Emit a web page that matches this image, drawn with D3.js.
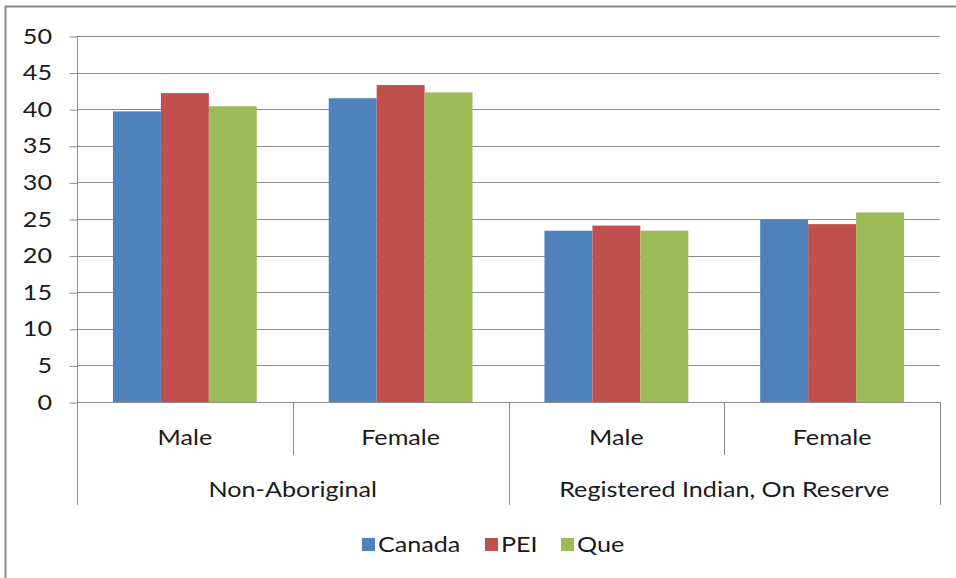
<!DOCTYPE html>
<html>
<head>
<meta charset="utf-8">
<script src="https://cdn.jsdelivr.net/npm/d3@7"></script>
<style>
  html, body { margin: 0; padding: 0; background: #fff; }
  svg { display: block; }
  text { font-family: Lato, "Open Sans", sans-serif; fill: #1a1a1a; }
</style>
</head>
<body>
<svg id="chart" width="956" height="578"></svg>
<script>
// Groups along the x axis (outer) and sex (inner)
const groups = ["Non-Aboriginal", "Registered Indian, On Reserve"];
const sexes = ["Male", "Female"];
const series = ["Canada", "PEI", "Que"];
const colors = ["#4F81BD", "#C0504D", "#9BBB59"];
const yTicks = [0, 5, 10, 15, 20, 25, 30, 35, 40, 45, 50];

// Values per series, in order: Non-Ab Male, Non-Ab Female, Reg Male, Reg Female
const canada = [39.7, 41.5, 23.4, 24.9];
const pei    = [42.2, 43.3, 24.1, 24.3];
const que    = [40.4, 42.3, 23.4, 25.9];
const values = [canada, pei, que];

const svg = d3.select("#chart");
const W = 956, H = 578;
const m = { left: 77, right: 940, top: 36, bottom: 402 };
const FS = 21.5, SX = 1.17;

// categories = group x sex
const cats = [];
groups.forEach(g => sexes.forEach(s => cats.push(g + "|" + s)));

const x = d3.scaleBand().domain(cats).range([m.left, m.right]).paddingInner(0).paddingOuter(0);
const xi = d3.scaleBand().domain(series).range([0, x.bandwidth()]).paddingOuter(0.75).paddingInner(0);
const y = d3.scaleLinear().domain([0, 50]).range([m.bottom, m.top]);

function label(sel, tx, ty, str, anchor) {
  return sel.append("g").attr("transform", `translate(${tx},${ty}) scale(${SX},1)`)
    .append("text").attr("text-anchor", anchor || "middle")
    .style("font-size", FS + "px").text(str);
}

// outer frame
svg.append("path")
  .attr("d", `M5.5,${H} V6.5 H${W + 5}`)
  .attr("fill", "none").attr("stroke", "#878787").attr("stroke-width", 2);

// gridlines
svg.append("g").selectAll("line").data(yTicks.filter(d => d > 0)).join("line")
  .attr("x1", m.left).attr("x2", m.right)
  .attr("y1", d => Math.round(y(d)) + 0.5).attr("y2", d => Math.round(y(d)) + 0.5)
  .attr("stroke", "#8c8c8c").attr("stroke-width", 1);

// bars
const bars = svg.append("g");
series.forEach((s, si) => {
  bars.selectAll("rect.s" + si).data(values[si]).join("rect")
    .attr("class", "s" + si)
    .attr("x", (d, i) => x(cats[i]) + xi(s))
    .attr("width", xi.bandwidth())
    .attr("y", d => y(d))
    .attr("height", d => y(0) - y(d))
    .attr("fill", colors[si]);
});

// y axis
const yAxis = d3.axisLeft(y).tickValues(yTicks).tickSize(8).tickPadding(0).tickFormat(d3.format("d"));
const ya = svg.append("g").attr("transform", `translate(${m.left + 0.5},0.5)`).call(yAxis);
ya.select(".domain").attr("stroke", "#8c8c8c").attr("d", `M0,${m.top} V${m.bottom}`);
ya.selectAll(".tick line").attr("stroke", "#8c8c8c");
ya.selectAll(".tick text").remove();
yTicks.forEach(t => label(svg, 52, y(t) + 7.5, String(t), "end"));

// x axis baseline
svg.append("line").attr("x1", m.left).attr("x2", m.right)
  .attr("y1", m.bottom + 0.5).attr("y2", m.bottom + 0.5)
  .attr("stroke", "#8c8c8c");

// category separators
const xb = svg.append("g");
const innerBottom = 455, outerBottom = 505;
cats.forEach((c, i) => {
  const xl = Math.round(x(c)) + 0.5;
  const isOuter = i % sexes.length === 0;
  xb.append("line").attr("x1", xl).attr("x2", xl).attr("y1", m.bottom)
    .attr("y2", isOuter ? outerBottom : innerBottom).attr("stroke", "#8c8c8c");
  label(svg, x(c) + x.bandwidth() / 2, 445, c.split("|")[1]);
});
xb.append("line").attr("x1", m.right + 0.5).attr("x2", m.right + 0.5)
  .attr("y1", m.bottom).attr("y2", outerBottom).attr("stroke", "#8c8c8c");
groups.forEach(g => {
  const x0 = x(g + "|" + sexes[0]);
  const x1 = x(g + "|" + sexes[sexes.length - 1]) + x.bandwidth();
  label(svg, (x0 + x1) / 2, 497, g);
});

// legend
const legendX = [362, 485, 561];
series.forEach((s, i) => {
  svg.append("rect").attr("x", legendX[i]).attr("y", 538).attr("width", 13).attr("height", 13)
    .attr("fill", colors[i]);
  label(svg, legendX[i] + 16, 552, s, "start");
});
</script>
</body>
</html>
